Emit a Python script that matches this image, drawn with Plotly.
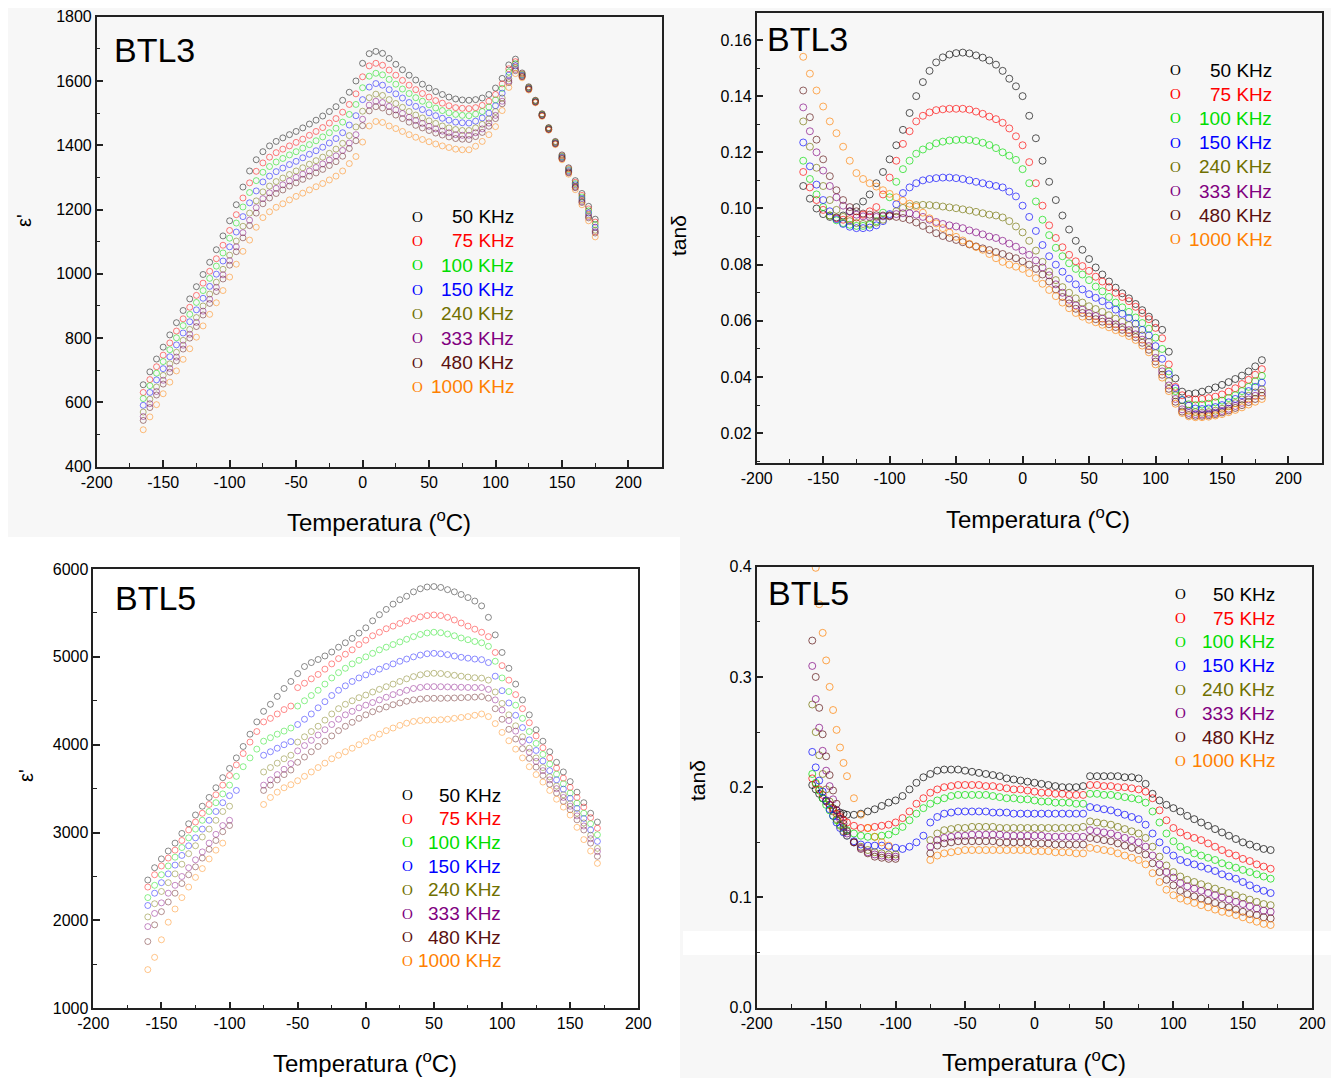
import plotly.graph_objects as go

# page body has an 8px margin: the figure is sized so it fills the rest of the window
OFF = 8
W, H = 1339 - OFF, 1078 - OFF

FREQ_LABELS = ["50 KHz", "75 KHz", "100 KHz", "150 KHz", "240 KHz", "333 KHz", "480 KHz", "1000 KHz"]
COLORS = ["#000000", "#ff0000", "#00dd00", "#0000ff", "#707000", "#800080", "#5a0f0f", "#ff8000"]
X_TICKS = [-200, -150, -100, -50, 0, 50, 100, 150, 200]
X_TICK_TEXT = ["-200", "-150", "-100", "-50", "0", "50", "100", "150", "200"]

# ---------------- BTL3 : permittivity ----------------
T_BTL3_EPS = [-165, -160, -155, -150, -145, -140, -135, -130, -125, -120, -115, -110, -105, -100, -95, -90, -85, -80,
              -75, -70, -65, -60, -55, -50, -45, -40, -35, -30, -25, -20, -15, -10, -5, 0, 5, 10, 15, 20, 25, 30, 35,
              40, 45, 50, 55, 60, 65, 70, 75, 80, 85, 90, 95, 100, 105, 110, 115, 120, 125, 130, 135, 140, 145, 150,
              155, 160, 165, 170, 175]
BTL3_EPS_50 = [655, 695, 735, 772, 810, 848, 886, 922, 960, 998, 1036, 1075, 1118, 1165, 1215, 1270, 1320, 1355, 1380,
               1398, 1412, 1423, 1433, 1443, 1454, 1466, 1478, 1491, 1505, 1520, 1540, 1565, 1600, 1655, 1685, 1692,
               1686, 1670, 1652, 1635, 1618, 1603, 1590, 1578, 1567, 1558, 1550, 1544, 1541, 1540, 1542, 1547, 1558,
               1578, 1608, 1650, 1668, 1625, 1582, 1540, 1498, 1455, 1412, 1370, 1330, 1290, 1250, 1210, 1170]
BTL3_EPS_75 = [631, 671, 711, 747, 785, 822, 860, 896, 933, 971, 1008, 1047, 1089, 1135, 1184, 1236, 1283, 1319, 1345,
               1363, 1377, 1388, 1398, 1409, 1419, 1431, 1443, 1455, 1469, 1483, 1503, 1527, 1560, 1613, 1647, 1655,
               1649, 1634, 1618, 1602, 1587, 1573, 1561, 1550, 1539, 1531, 1523, 1517, 1515, 1514, 1517, 1524, 1537,
               1558, 1591, 1638, 1660, 1622, 1580, 1539, 1497, 1454, 1410, 1367, 1327, 1285, 1244, 1202, 1161]
BTL3_EPS_100 = [612, 652, 691, 727, 764, 801, 839, 874, 911, 948, 986, 1024, 1065, 1111, 1158, 1208, 1253, 1290, 1316,
                1334, 1348, 1359, 1370, 1380, 1391, 1402, 1414, 1426, 1439, 1453, 1472, 1496, 1527, 1579, 1615, 1624,
                1619, 1605, 1590, 1575, 1561, 1548, 1537, 1526, 1516, 1508, 1501, 1496, 1493, 1492, 1497, 1505, 1519,
                1541, 1577, 1628, 1654, 1620, 1579, 1538, 1496, 1453, 1409, 1365, 1324, 1281, 1239, 1196, 1153]
BTL3_EPS_150 = [591, 631, 670, 705, 742, 779, 816, 851, 888, 924, 961, 999, 1040, 1084, 1130, 1178, 1221, 1258, 1286,
                1304, 1318, 1329, 1340, 1350, 1361, 1372, 1383, 1394, 1407, 1421, 1439, 1463, 1492, 1542, 1581, 1592,
                1587, 1573, 1560, 1547, 1533, 1521, 1511, 1501, 1492, 1484, 1478, 1472, 1470, 1469, 1475, 1485, 1500,
                1523, 1562, 1618, 1647, 1618, 1577, 1536, 1494, 1451, 1407, 1363, 1321, 1277, 1234, 1189, 1145]
BTL3_EPS_240 = [570, 610, 648, 684, 720, 756, 793, 827, 864, 900, 937, 974, 1014, 1058, 1102, 1148, 1189, 1227, 1255,
                1273, 1287, 1298, 1309, 1320, 1330, 1341, 1352, 1363, 1375, 1388, 1406, 1430, 1457, 1506, 1548, 1559,
                1555, 1542, 1530, 1518, 1505, 1494, 1485, 1476, 1468, 1460, 1454, 1449, 1446, 1446, 1454, 1465, 1482,
                1505, 1547, 1607, 1641, 1616, 1576, 1535, 1493, 1450, 1406, 1361, 1318, 1273, 1229, 1183, 1136]
BTL3_EPS_333 = [556, 596, 634, 669, 706, 741, 778, 812, 849, 884, 921, 958, 997, 1041, 1084, 1128, 1167, 1206, 1234,
                1252, 1266, 1277, 1289, 1300, 1310, 1320, 1331, 1342, 1354, 1367, 1384, 1407, 1433, 1481, 1525, 1537,
                1533, 1521, 1510, 1499, 1487, 1477, 1468, 1459, 1451, 1444, 1439, 1433, 1431, 1431, 1439, 1451, 1469,
                1493, 1537, 1600, 1636, 1614, 1575, 1534, 1492, 1449, 1405, 1359, 1316, 1270, 1225, 1178, 1131]
BTL3_EPS_480 = [544, 584, 623, 657, 694, 729, 766, 800, 836, 872, 908, 945, 984, 1027, 1069, 1112, 1150, 1189, 1218,
                1236, 1250, 1261, 1273, 1283, 1294, 1304, 1314, 1325, 1337, 1349, 1366, 1390, 1414, 1461, 1507, 1520,
                1516, 1504, 1494, 1483, 1472, 1462, 1454, 1446, 1438, 1432, 1426, 1421, 1419, 1418, 1427, 1440, 1459,
                1483, 1529, 1595, 1632, 1613, 1574, 1534, 1492, 1449, 1404, 1358, 1314, 1268, 1222, 1174, 1127]
BTL3_EPS_1000 = [515, 555, 593, 627, 663, 698, 734, 767, 803, 838, 874, 910, 948, 990, 1030, 1070, 1105, 1145, 1175,
                 1193, 1207, 1218, 1230, 1241, 1251, 1261, 1271, 1281, 1292, 1304, 1320, 1343, 1365, 1410, 1460, 1474,
                 1471, 1460, 1452, 1443, 1433, 1425, 1418, 1411, 1404, 1398, 1393, 1388, 1386, 1386, 1397, 1412, 1433,
                 1458, 1508, 1580, 1623, 1610, 1572, 1532, 1490, 1447, 1402, 1355, 1310, 1262, 1215, 1165, 1115]

# ---------------- BTL3 : loss tangent ----------------
T_BTL3_TAN = [-165, -160, -155, -150, -145, -140, -135, -130, -125, -120, -115, -110, -105, -100, -95, -90, -85, -80,
              -75, -70, -65, -60, -55, -50, -45, -40, -35, -30, -25, -20, -15, -10, -5, 0, 5, 10, 15, 20, 25, 30, 35,
              40, 45, 50, 55, 60, 65, 70, 75, 80, 85, 90, 95, 100, 105, 110, 115, 120, 125, 130, 135, 140, 145, 150,
              155, 160, 165, 170, 175, 180]
BTL3_TAN_50 = [.1080, .1035, .1000, .0980, .0970, .0968, .0975, .0990, .1005, .1025,
               .1050, .1090, .1130, .1175, .1225, .1280, .1340, .1400, .1450, .1490,
               .1520, .1538, .1548, .1553, .1555, .1552, .1545, .1537, .1527, .1512,
               .1490, .1462, .1435, .1400, .1330, .1250, .1170, .1095, .1030, .0975,
               .0925, .0885, .0853, .0820, .0790, .0765, .0740, .0718, .0698, .0680,
               .0660, .0638, .0615, .0592, .0568, .0490, .0395, .0348, .0340, .0342,
               .0348, .0355, .0363, .0372, .0382, .0393, .0405, .0420, .0438, .0460]
BTL3_TAN_75 = [.1130, .1075, .1030, .0995, .0975, .0965, .0960, .0962, .0968, .0978,
               .0990, .1005, .1050, .1110, .1170, .1230, .1275, .1310, .1330, .1342,
               .1350, .1353, .1355, .1355, .1355, .1352, .1345, .1337, .1327, .1318,
               .1305, .1285, .1257, .1225, .1165, .1090, .1010, .0940, .0895, .0862,
               .0835, .0812, .0795, .0778, .0757, .0740, .0720, .0700, .0685, .0670,
               .0650, .0628, .0606, .0575, .0538, .0445, .0365, .0335, .0322, .0320,
               .0322, .0325, .0330, .0338, .0348, .0360, .0375, .0390, .0408, .0428]
BTL3_TAN_100 = [.1170, .1105, .1050, .1005, .0975, .0958, .0948, .0942, .0938, .0938,
                .0942, .0955, .0985, .1040, .1095, .1140, .1170, .1195, .1210, .1222,
                .1232, .1238, .1242, .1244, .1245, .1244, .1240, .1234, .1226, .1215,
                .1200, .1188, .1173, .1140, .1090, .1025, .0960, .0905, .0860, .0830,
                .0805, .0785, .0765, .0745, .0722, .0705, .0685, .0665, .0648, .0632,
                .0612, .0592, .0572, .0540, .0500, .0420, .0350, .0318, .0303, .0300,
                .0302, .0305, .0310, .0316, .0325, .0335, .0350, .0365, .0385, .0404]
BTL3_TAN_150 = [.1235, .1150, .1085, .1030, .0990, .0962, .0945, .0935, .0930, .0930,
                .0932, .0940, .0955, .0980, .1015, .1055, .1075, .1090, .1100, .1105,
                .1108, .1110, .1110, .1108, .1105, .1100, .1095, .1090, .1085, .1080,
                .1075, .1060, .1043, .1010, .0970, .0920, .0870, .0830, .0800, .0775,
                .0750, .0730, .0712, .0695, .0682, .0670, .0655, .0640, .0625, .0610,
                .0590, .0568, .0548, .0510, .0465, .0410, .0360, .0318, .0298, .0288,
                .0286, .0288, .0293, .0300, .0310, .0322, .0335, .0350, .0365, .0380]
BTL3_TAN_240 = [.1310, .1220, .1145, .1080, .1030, .0995, .0970, .0955, .0948, .0945,
                .0946, .0950, .0960, .0975, .0990, .1002, .1008, .1012, .1013, .1012,
                .1010, .1007, .1004, .1001, .0997, .0993, .0988, .0983, .0978, .0975,
                .0968, .0955, .0936, .0915, .0885, .0850, .0810, .0775, .0745, .0720,
                .0700, .0680, .0665, .0652, .0642, .0632, .0620, .0608, .0597, .0585,
                .0568, .0548, .0525, .0485, .0430, .0385, .0335, .0295, .0280, .0275,
                .0273, .0275, .0280, .0287, .0296, .0307, .0320, .0333, .0345, .0356]
BTL3_TAN_333 = [.1360, .1275, .1200, .1135, .1080, .1040, .1010, .0990, .0978, .0972,
                .0970, .0970, .0972, .0975, .0980, .0983, .0983, .0978, .0970, .0960,
                .0952, .0945, .0940, .0936, .0930, .0922, .0915, .0908, .0900, .0895,
                .0885, .0875, .0864, .0850, .0835, .0815, .0790, .0762, .0730, .0700,
                .0675, .0655, .0640, .0627, .0617, .0608, .0598, .0588, .0578, .0567,
                .0552, .0533, .0510, .0468, .0420, .0370, .0322, .0285, .0272, .0268,
                .0267, .0269, .0273, .0279, .0287, .0297, .0308, .0320, .0333, .0345]
BTL3_TAN_480 = [.1420, .1325, .1245, .1175, .1115, .1065, .1030, .1005, .0990, .0982,
                .0978, .0976, .0975, .0972, .0970, .0966, .0960, .0950, .0938, .0925,
                .0912, .0902, .0895, .0888, .0880, .0872, .0865, .0858, .0852, .0845,
                .0838, .0830, .0823, .0812, .0800, .0785, .0765, .0740, .0712, .0685,
                .0662, .0643, .0628, .0616, .0606, .0597, .0588, .0578, .0568, .0557,
                .0542, .0522, .0497, .0455, .0408, .0358, .0312, .0277, .0265, .0262,
                .0262, .0264, .0268, .0274, .0281, .0290, .0300, .0311, .0322, .0333]
BTL3_TAN_1000 = [.1540, .1480, .1420, .1363, .1310, .1268, .1220, .1170, .1126, .1105,
                 .1090, .1078, .1065, .1052, .1040, .1028, .1017, .1006, .0985, .0965,
                 .0947, .0930, .0914, .0899, .0886, .0874, .0863, .0853, .0838, .0823,
                 .0810, .0800, .0793, .0785, .0770, .0752, .0732, .0710, .0688, .0665,
                 .0645, .0628, .0615, .0604, .0595, .0586, .0577, .0567, .0557, .0546,
                 .0532, .0512, .0488, .0445, .0398, .0350, .0305, .0272, .0260, .0257,
                 .0257, .0259, .0263, .0268, .0275, .0283, .0292, .0302, .0312, .0322]

# ---------------- BTL5 : permittivity ----------------
T_BTL5_EPS = [-160, -155, -150, -145, -140, -135, -130, -125, -120, -115, -110, -105, -100, -95, -90, -85, -80, -75,
              -70, -65, -60, -55, -50, -45, -40, -35, -30, -25, -20, -15, -10, -5, 0, 5, 10, 15, 20, 25, 30, 35, 40,
              45, 50, 55, 60, 65, 70, 75, 80, 85, 90, 95, 100, 105, 110, 115, 120, 125, 130, 135, 140, 145, 150, 155,
              160, 165, 170]
BTL5_EPS_50 = [2460, 2600, 2700, 2790, 2880, 2990, 3100, 3200, 3300, 3400,
               3510, 3625, 3730, 3850, 3980, 4120, 4260, 4380, 4460, 4550,
               4640, 4720, 4810, 4890, 4935, 4970, 5010, 5055, 5110, 5160,
               5210, 5270, 5330, 5410, 5480, 5540, 5600, 5650, 5690, 5740,
               5775, 5795, 5800, 5790, 5765, 5740, 5710, 5675, 5635, 5580,
               5450, 5250, 5050, 4870, 4690, 4510, 4340, 4170, 4040, 3920,
               3800, 3690, 3580, 3460, 3340, 3220, 3120]
BTL5_EPS_75 = [2380, 2520, 2620, 2710, 2800, 2910, 3030, 3120, 3220, 3320,
               3430, 3540, 3650, 3770, 3900, 4030, 4150, 4260, 4300, 4350,
               4400, 4440, 4650, 4700, 4750, 4800, 4860, 4920, 4980, 5030,
               5080, 5140, 5190, 5240, 5280, 5320, 5350, 5380, 5410, 5435,
               5455, 5470, 5477, 5470, 5450, 5420, 5385, 5350, 5315, 5280,
               5230, 5050, 4900, 4735, 4570, 4410, 4250, 4100, 3965, 3850,
               3735, 3620, 3515, 3400, 3290, 3170, 3050]
BTL5_EPS_100 = [2260, 2400, 2520, 2620, 2720, 2830, 2940, 3040, 3140, 3240,
                3340, 3440, 3540, 3640, 3750, 3850, 3950, 4040, 4080, 4120,
                4155, 4190, 4440, 4500, 4560, 4620, 4690, 4760, 4820, 4870,
                4920, 4960, 5000, 5040, 5080, 5110, 5140, 5170, 5200, 5230,
                5255, 5272, 5280, 5275, 5260, 5240, 5215, 5195, 5175, 5160,
                5120, 4950, 4760, 4605, 4450, 4300, 4150, 4015, 3890, 3780,
                3665, 3555, 3450, 3335, 3220, 3100, 2975]
BTL5_EPS_150 = [2170, 2310, 2430, 2530, 2630, 2740, 2850, 2940, 3040, 3140,
                3240, 3340, 3420, 3480, None, None, None, 3880, 3920, 3960,
                4000, 4035, 4230, 4290, 4350, 4420, 4490, 4560, 4620, 4670,
                4720, 4760, 4795, 4830, 4860, 4890, 4920, 4950, 4975, 5000,
                5020, 5035, 5040, 5035, 5025, 5010, 4995, 4985, 4975, 4968,
                4935, 4780, 4615, 4475, 4335, 4195, 4055, 3935, 3815, 3705,
                3600, 3495, 3390, 3275, 3160, 3030, 2900]
BTL5_EPS_240 = [2040, 2190, 2330, 2430, 2530, 2640, 2760, 2850, 2950, 3040,
                3140, 3240, 3300, None, None, None, None, 3690, 3740, 3790,
                3840, 3880, 4030, 4090, 4150, 4210, 4280, 4350, 4410, 4460,
                4500, 4535, 4565, 4600, 4630, 4660, 4690, 4720, 4750, 4775,
                4795, 4808, 4813, 4810, 4800, 4790, 4780, 4770, 4762, 4758,
                4735, 4600, 4470, 4340, 4215, 4090, 3960, 3850, 3740, 3635,
                3530, 3430, 3330, 3220, 3110, 2970, 2820]
BTL5_EPS_333 = [1930, 2080, 2200, 2310, 2400, 2500, 2600, 2690, 2780, 2880,
                2980, 3080, 3140, None, None, None, None, 3540, 3600, 3660,
                3720, 3785, 3930, 3990, 4050, 4110, 4170, 4230, 4290, 4340,
                4380, 4420, 4450, 4480, 4510, 4540, 4570, 4595, 4620, 4640,
                4652, 4660, 4661, 4660, 4658, 4656, 4654, 4652, 4651, 4650,
                4630, 4510, 4395, 4275, 4155, 4035, 3915, 3810, 3705, 3600,
                3500, 3400, 3300, 3190, 3075, 2930, 2785]
BTL5_EPS_480 = [1760, 1950, 2100, 2210, 2310, 2420, 2520, 2610, 2710, 2810,
                2910, 3010, 3080, None, None, None, None, 3480, 3540, 3600,
                3660, 3712, 3800, 3860, 3920, 3980, 4040, 4100, 4160, 4210,
                4255, 4300, 4340, 4375, 4405, 4430, 4455, 4475, 4495, 4510,
                4520, 4527, 4528, 4528, 4530, 4532, 4535, 4538, 4542, 4547,
                4530, 4410, 4290, 4175, 4065, 3955, 3845, 3745, 3650, 3550,
                3450, 3355, 3260, 3145, 3030, 2880, 2730]
BTL5_EPS_1000 = [1440, 1580, 1780, 1980, 2130, 2260, 2380, 2490, 2590, 2700,
                 2800, 2880, None, None, None, None, None, 3320, 3400, 3460,
                 3510, 3545, 3590, 3640, 3690, 3740, 3790, 3840, 3880, 3920,
                 3960, 4000, 4040, 4080, 4120, 4160, 4190, 4220, 4245, 4265,
                 4275, 4280, 4282, 4284, 4290, 4300, 4310, 4320, 4335, 4350,
                 4320, 4240, 4140, 4045, 3950, 3850, 3750, 3660, 3575, 3480,
                 3380, 3290, 3200, 3060, 2920, 2790, 2650]

# ---------------- BTL5 : loss tangent ----------------
T_BTL5_TAN = [-160, -157.5, -155, -152.5, -150, -147.5, -145, -142.5, -140, -137.5, -135,
              -130, -125, -120, -115, -110, -105, -100, -95, -90, -85, -80, -75, -70, -65, -60, -55, -50, -45, -40,
              -35, -30, -25, -20, -15, -10, -5, 0, 5, 10, 15, 20, 25, 30, 35, 40, 45, 50, 55, 60, 65, 70, 75, 80, 85,
              90, 95, 100, 105, 110, 115, 120, 125, 130, 135, 140, 145, 150, 155, 160, 165, 170]
BTL5_TAN_50 = [0.202, 0.198, 0.194, 0.190, 0.187, 0.184, 0.181, 0.179, 0.177, 0.176, 0.175,
               0.175, 0.176, 0.178, 0.180, 0.183, 0.186, 0.188, 0.192, 0.198, 0.204,
               0.209, 0.212, 0.215, 0.216, 0.216, 0.216, 0.215, 0.214, 0.213, 0.212,
               0.211, 0.210, 0.208, 0.207, 0.206, 0.205, 0.204, 0.203, 0.202, 0.201,
               0.200, 0.200, 0.200, 0.201, 0.210, 0.210, 0.210, 0.210, 0.210, 0.209,
               0.209, 0.208, 0.203, 0.194, 0.188, 0.184, 0.181, 0.178, 0.174, 0.171,
               0.168, 0.165, 0.162, 0.159, 0.156, 0.153, 0.150, 0.148, 0.146, 0.144,
               0.143]
BTL5_TAN_75 = [0.208, 0.203, 0.198, 0.193, 0.188, 0.184, 0.180, 0.176, 0.173, 0.170, 0.168,
               0.165, 0.163, 0.163, 0.164, 0.165, 0.166, 0.168, 0.172, 0.178, 0.185,
               0.190, 0.195, 0.198, 0.200, 0.201, 0.202, 0.202, 0.202, 0.202, 0.201,
               0.201, 0.200, 0.199, 0.198, 0.198, 0.197, 0.196, 0.195, 0.195, 0.194,
               0.194, 0.193, 0.193, 0.193, 0.202, 0.202, 0.201, 0.201, 0.200, 0.200,
               0.199, 0.198, 0.196, 0.190, 0.179, 0.170, 0.163, 0.159, 0.156, 0.154,
               0.152, 0.149, 0.146, 0.143, 0.140, 0.138, 0.135, 0.133, 0.130, 0.128,
               0.126]
BTL5_TAN_100 = [0.212, 0.204, 0.197, 0.190, 0.184, 0.179, 0.174, 0.170, 0.166, 0.163, 0.161,
                0.158, 0.156, 0.155, 0.155, 0.156, 0.157, 0.160, 0.164, 0.170, 0.176,
                0.181, 0.185, 0.188, 0.190, 0.192, 0.193, 0.193, 0.193, 0.193, 0.193,
                0.192, 0.191, 0.190, 0.190, 0.189, 0.189, 0.188, 0.187, 0.187, 0.186,
                0.186, 0.186, 0.185, 0.185, 0.194, 0.194, 0.193, 0.193, 0.192, 0.191,
                0.190, 0.189, 0.186, 0.178, 0.168, 0.158, 0.151, 0.146, 0.143, 0.140,
                0.138, 0.136, 0.134, 0.131, 0.129, 0.127, 0.125, 0.123, 0.121, 0.119,
                0.117]
BTL5_TAN_150 = [0.232, 0.218, 0.206, 0.196, 0.188, 0.180, 0.174, 0.168, 0.163, 0.159, 0.156,
                0.151, 0.148, 0.147, 0.147, 0.147, 0.146, 0.145, 0.144, 0.146, 0.150,
                0.156, 0.168, 0.173, 0.176, 0.177, 0.178, 0.178, 0.178, 0.178, 0.178,
                0.177, 0.177, 0.177, 0.176, 0.176, 0.176, 0.176, 0.176, 0.176, 0.176,
                0.176, 0.176, 0.176, 0.176, 0.182, 0.181, 0.180, 0.179, 0.177, 0.175,
                0.173, 0.171, 0.166, 0.158, 0.150, 0.143, 0.138, 0.134, 0.132, 0.130,
                0.128, 0.126, 0.124, 0.121, 0.119, 0.117, 0.114, 0.111, 0.108, 0.106,
                0.104]
BTL5_TAN_240 = [0.275, 0.250, 0.229, 0.212, 0.198, 0.187, 0.178, 0.171, 0.165, 0.160, 0.156,
                0.150, 0.146, 0.143, 0.141, 0.140, 0.139, 0.139, None, None, None,
                None, 0.152, 0.158, 0.161, 0.162, 0.163, 0.163, 0.164, 0.164, 0.164,
                0.164, 0.163, 0.163, 0.163, 0.163, 0.163, 0.163, 0.163, 0.163, 0.163,
                0.163, 0.163, 0.163, 0.164, 0.169, 0.168, 0.167, 0.166, 0.164, 0.162,
                0.160, 0.158, 0.154, 0.146, 0.137, 0.129, 0.123, 0.119, 0.116, 0.114,
                0.112, 0.110, 0.108, 0.106, 0.104, 0.102, 0.100, 0.098, 0.096, 0.094,
                0.093]
BTL5_TAN_333 = [0.310, 0.280, 0.254, 0.233, 0.215, 0.201, 0.189, 0.179, 0.171, 0.164, 0.158,
                0.150, 0.145, 0.141, 0.139, 0.138, 0.137, 0.137, None, None, None,
                None, 0.146, 0.152, 0.154, 0.155, 0.156, 0.156, 0.157, 0.157, 0.157,
                0.157, 0.157, 0.156, 0.156, 0.156, 0.156, 0.156, 0.156, 0.155, 0.155,
                0.155, 0.155, 0.155, 0.155, 0.161, 0.160, 0.159, 0.158, 0.156, 0.154,
                0.152, 0.150, 0.146, 0.138, 0.130, 0.123, 0.118, 0.113, 0.110, 0.108,
                0.106, 0.104, 0.102, 0.100, 0.098, 0.096, 0.094, 0.092, 0.090, 0.088,
                0.087]
BTL5_TAN_480 = [0.333, 0.300, 0.272, 0.248, 0.228, 0.211, 0.197, 0.185, 0.175, 0.167, 0.160,
                0.150, 0.144, 0.140, 0.137, 0.136, 0.135, 0.135, None, None, None,
                None, 0.140, 0.147, 0.149, 0.150, 0.151, 0.151, 0.151, 0.151, 0.151,
                0.151, 0.150, 0.150, 0.150, 0.150, 0.150, 0.149, 0.149, 0.149, 0.148,
                0.148, 0.148, 0.148, 0.148, 0.154, 0.153, 0.152, 0.151, 0.149, 0.147,
                0.145, 0.143, 0.139, 0.131, 0.123, 0.116, 0.111, 0.106, 0.103, 0.101,
                0.099, 0.097, 0.095, 0.093, 0.091, 0.089, 0.087, 0.085, 0.084, 0.082,
                0.081]
BTL5_TAN_1000 = [None, 0.399, 0.366, 0.340, 0.315, 0.291, 0.270, 0.252, 0.236, 0.222, 0.210,
                 0.190, 0.175, 0.163, 0.155, 0.150, 0.147, None, None, None, None,
                 None, 0.134, 0.138, 0.140, 0.141, 0.142, 0.143, 0.143, 0.143, 0.143,
                 0.143, 0.143, 0.143, 0.143, 0.143, 0.143, 0.142, 0.142, 0.142, 0.141,
                 0.141, 0.141, 0.140, 0.140, 0.145, 0.144, 0.143, 0.142, 0.140, 0.138,
                 0.136, 0.134, 0.130, 0.122, 0.114, 0.107, 0.102, 0.099, 0.097, 0.095,
                 0.093, 0.091, 0.089, 0.087, 0.086, 0.084, 0.082, 0.080, 0.078, 0.076,
                 0.075]

# ---------------------------------------------------------------
def px(x):
    # page-pixel x (reference) -> paper fraction
    return (x - OFF) / W


def py(y):
    # page-pixel y (reference) -> paper fraction
    return 1 - (y - OFF) / H


panels = [
    dict(t=T_BTL3_EPS, ys=[BTL3_EPS_50, BTL3_EPS_75, BTL3_EPS_100, BTL3_EPS_150, BTL3_EPS_240, BTL3_EPS_333,
                           BTL3_EPS_480, BTL3_EPS_1000], xa="x", ya="y", size=6, alpha=0.5),
    dict(t=T_BTL3_TAN, ys=[BTL3_TAN_50, BTL3_TAN_75, BTL3_TAN_100, BTL3_TAN_150, BTL3_TAN_240, BTL3_TAN_333,
                           BTL3_TAN_480, BTL3_TAN_1000], xa="x2", ya="y2", size=7, alpha=0.65),
    dict(t=T_BTL5_EPS, ys=[BTL5_EPS_50, BTL5_EPS_75, BTL5_EPS_100, BTL5_EPS_150, BTL5_EPS_240, BTL5_EPS_333,
                           BTL5_EPS_480, BTL5_EPS_1000], xa="x3", ya="y3", size=6, alpha=0.45),
    dict(t=T_BTL5_TAN, ys=[BTL5_TAN_50, BTL5_TAN_75, BTL5_TAN_100, BTL5_TAN_150, BTL5_TAN_240, BTL5_TAN_333,
                           BTL5_TAN_480, BTL5_TAN_1000], xa="x4", ya="y4", size=7, alpha=0.7),
]


def rgba(hexc, a):
    h = hexc.lstrip("#")
    r, g, b = int(h[0:2], 16), int(h[2:4], 16), int(h[4:6], 16)
    return f"rgba({r},{g},{b},{a})"


fig = go.Figure()
for p in panels:
    for lab, col, y in zip(FREQ_LABELS, COLORS, p["ys"]):
        fig.add_trace(go.Scatter(
            x=p["t"], y=y, mode="markers", name=lab, xaxis=p["xa"], yaxis=p["ya"], showlegend=False,
            marker=dict(symbol="circle-open", size=p["size"], color=rgba(col, p["alpha"]),
                        line=dict(width=1, color=rgba(col, p["alpha"]))),
        ))

FONT = "Liberation Sans, Arial, sans-serif"


def axis(domain, rng, dtick, minor_dtick, anchor, fmt=None, xticks=False):
    d = dict(domain=domain, range=rng, anchor=anchor, showline=True, linecolor="#222",
             linewidth=1.5, mirror=True, ticks="inside", ticklen=7, tickwidth=1.5, tickcolor="#222",
             minor=dict(ticks="inside", ticklen=4, tickwidth=1.2, tickcolor="#222", dtick=minor_dtick, tick0=0),
             showgrid=False, zeroline=False, automargin=False,
             tickfont=dict(family=FONT, size=16, color="black"))
    if xticks:
        d["tickmode"] = "array"
        d["tickvals"] = X_TICKS
        d["ticktext"] = X_TICK_TEXT
    else:
        d["dtick"] = dtick
        d["tick0"] = 0
    if fmt:
        d["tickformat"] = fmt
    return d


layout = dict(
    template="none",
    width=W, height=H, autosize=False,
    margin=dict(l=0, r=0, t=0, b=0, pad=0),
    paper_bgcolor="#f7f7f7", plot_bgcolor="rgba(0,0,0,0)",
    font=dict(family=FONT, color="black"),
    xaxis=axis([px(96.7), px(661.7)], [-200, 225], 50, 25, "y", xticks=True),
    yaxis=axis([py(466.7), py(16.7)], [400, 1800], 200, 100, "x"),
    xaxis2=axis([px(756.7), px(1321.7)], [-200, 225], 50, 25, "y2", xticks=True),
    yaxis2=axis([py(462.7), py(12.7)], [0.0095, 0.1697], 0.02, 0.01, "x2", fmt=".2f"),
    xaxis3=axis([px(93.3), px(638.3)], [-200, 200], 50, 25, "y3", xticks=True),
    yaxis3=axis([py(1008.3), py(569)], [1000, 6000], 1000, 500, "x3"),
    xaxis4=axis([px(756.7), px(1312.3)], [-200, 200], 50, 25, "y4", xticks=True),
    yaxis4=axis([py(1007.7), py(566.7)], [0, 0.4], 0.1, 0.05, "x4", fmt=".1f"),
)
fig.update_layout(**layout)

shapes = [
    dict(type="rect", xref="paper", yref="paper", x0=0, x1=px(680), y0=0, y1=py(537),
         fillcolor="white", line=dict(width=0), layer="below"),
    dict(type="rect", xref="paper", yref="paper", x0=px(683), x1=1, y0=py(955), y1=py(931),
         fillcolor="white", line=dict(width=0), layer="below"),
]
fig.update_layout(shapes=shapes)

ann = []
# panel titles
for txt, x, y in [("BTL3", 112, 50), ("BTL3", 765, 39), ("BTL5", 113, 598), ("BTL5", 766, 593)]:
    ann.append(dict(text=txt, x=px(x), y=py(y), xref="paper", yref="paper", xanchor="left", yanchor="middle",
                    showarrow=False, font=dict(family=FONT, size=34, color="black")))

# axis titles
for x, y in [(379, 521), (1038, 518), (365, 1062), (1034, 1061)]:
    ann.append(dict(text="Temperatura (<sup>o</sup>C)", x=px(x), y=py(y), xref="paper", yref="paper",
                    xanchor="center", yanchor="middle", showarrow=False,
                    font=dict(family=FONT, size=24, color="black")))
for txt, x, y, s in [("ε'", 24, 221, 20), ("tanδ", 678, 236, 21), ("ε'", 26, 776, 20), ("tanδ", 697, 781, 21)]:
    ann.append(dict(text=txt, x=px(x), y=py(y), xref="paper", yref="paper", xanchor="center",
                    yanchor="middle", textangle=-90, showarrow=False,
                    font=dict(family=FONT, size=s, color="black")))

# legends (text blocks)
legends = [(417.3, 516, 216.7, 24.3), (1175.7, 1274.3, 70, 24.2), (407.7, 503.3, 795, 23.7),
           (1180, 1276.7, 594.3, 23.8)]
for ox, rx, y0, dy in legends:
    for i, (lab, col) in enumerate(zip(FREQ_LABELS, COLORS)):
        yy = y0 + i * dy
        ann.append(dict(text="O", x=px(ox), y=py(yy), xref="paper", yref="paper", xanchor="center",
                        yanchor="middle", showarrow=False,
                        font=dict(family="Liberation Serif, Times New Roman, serif", size=15, color=col)))
        ann.append(dict(text=lab, x=px(rx), y=py(yy), xref="paper", yref="paper", xanchor="right",
                        yanchor="middle", showarrow=False, font=dict(family=FONT, size=19, color=col)))

fig.update_layout(annotations=ann)
fig.write_html("out.html")
